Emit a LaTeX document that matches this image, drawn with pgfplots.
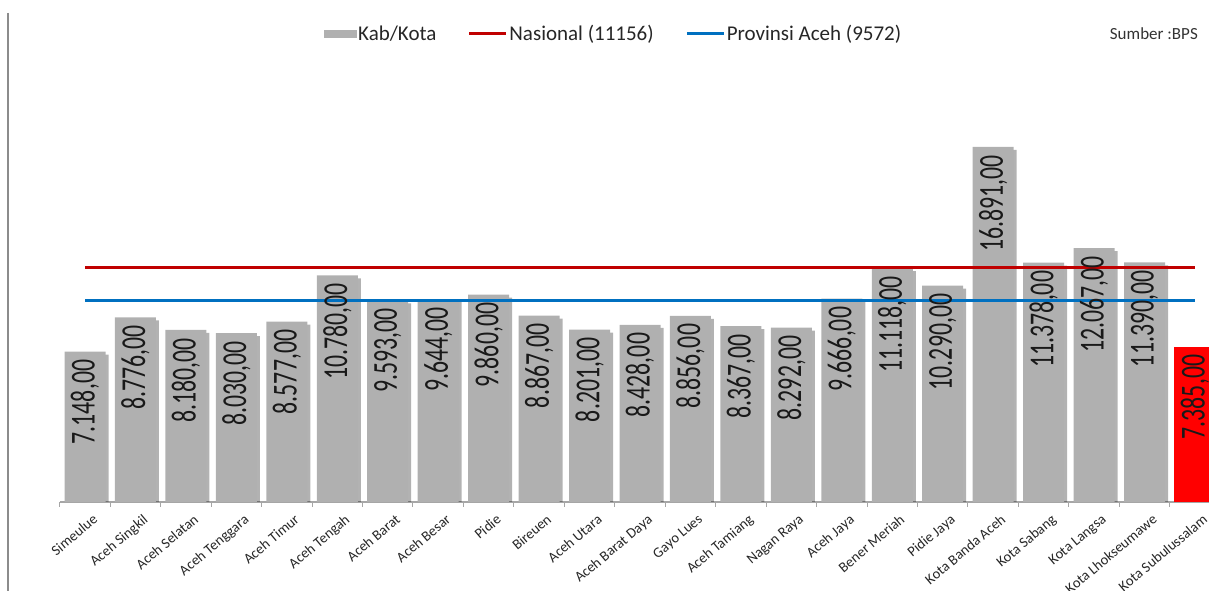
\documentclass[border=0pt]{standalone}
\usepackage{pgfplots}
\pgfplotsset{compat=1.18}
\usepackage{pgfplotstable}
\usepackage{graphicx}
\usepackage{fontspec}
\setmainfont{Carlito}
\definecolor{barGray}{HTML}{B0B0B0}
\definecolor{natRed}{HTML}{C00000}
\definecolor{provBlue}{HTML}{0070C0}
\definecolor{axGray}{HTML}{A6A6A6}

\pgfplotstableread{
x y lab
0 7148 7.148,00
1 8776 8.776,00
2 8180 8.180,00
3 8030 8.030,00
4 8577 8.577,00
5 10780 10.780,00
6 9593 9.593,00
7 9644 9.644,00
8 9860 9.860,00
9 8867 8.867,00
10 8201 8.201,00
11 8428 8.428,00
12 8856 8.856,00
13 8367 8.367,00
14 8292 8.292,00
15 9666 9.666,00
16 11118 11.118,00
17 10290 10.290,00
18 16891 16.891,00
19 11378 11.378,00
20 12067 12.067,00
21 11390 11.390,00
}\graytable

\pgfplotstableread{
x y lab
22 7385 7.385,00
}\redtable

\pgfplotsset{valstyle/.style={
  nodes near coords={\scalebox{0.68}[1]{\pgfplotspointmeta}},
  point meta=explicit symbolic,
  every node near coord/.append style={rotate=90, anchor=east, inner xsep=8pt, inner ysep=0pt,
    font=\fontsize{35}{35}\selectfont, text=black!90}}}

\begin{document}
\begin{tikzpicture}
\draw[color=black!45, line width=1.5pt] (8pt,578pt) -- (8pt,0pt);
\begin{axis}[
  at={(59.8pt,89pt)}, anchor=south west,
  scale only axis, width=1160.4pt, height=420.6pt,
  xmin=-0.5, xmax=22.5, ymin=0, ymax=20000,
  axis x line*=bottom, axis y line=none,
  x axis line style={axGray, line width=1.2pt},
  xtick={0,...,22},
  xticklabels={Simeulue, Aceh Singkil, Aceh Selatan, Aceh Tenggara, Aceh Timur, Aceh Tengah, Aceh Barat, Aceh Besar, Pidie, Bireuen, Aceh Utara, Aceh Barat Daya, Gayo Lues, Aceh Tamiang, Nagan Raya, Aceh Jaya, Bener Meriah, Pidie Jaya, Kota Banda Aceh, Kota Sabang, Kota Langsa, Kota Lhokseumawe, Kota Subulussalam},
  major tick length=0pt,
  minor xtick={-0.5,0.5,...,22.5},
  minor tick length=5pt,
  minor x tick style={axGray, line width=1pt},
  tick align=outside,
  xticklabel style={rotate=40, anchor=north east, font=\fontsize{14.5}{14.5}\selectfont, inner sep=0pt, yshift=-13pt, xshift=-2pt, text=black!85},
  legend style={at={(0.4772,1.1127)}, anchor=center, draw=none, fill=none, legend columns=-1,
    font=\fontsize{21}{21}\selectfont, inner sep=0pt, text=black!85,
    nodes={inner sep=1.5pt},
    /tikz/every even column/.append style={column sep=30pt}},
]
\addlegendimage{legend image code/.code={\fill[barGray] (0pt,-3.5pt) rectangle (32pt,3.5pt);}}
\addlegendentry{Kab/Kota}
\addlegendimage{legend image code/.code={\draw[natRed, line width=3pt] (0pt,0pt) -- (37pt,0pt);}}
\addlegendentry{Nasional (11156)}
\addlegendimage{legend image code/.code={\draw[provBlue, line width=3pt] (0pt,0pt) -- (37pt,0pt);}}
\addlegendentry{Provinsi Aceh (9572)}

\addplot[ybar, bar width=41pt, bar shift=3pt, yshift=-3pt, fill=black, fill opacity=0.3, draw=none, forget plot]
  table[x=x, y=y]{\graytable};
\addplot[ybar, bar width=41pt, bar shift=0pt, fill=barGray, draw=none, forget plot, valstyle]
  table[x=x, y=y, meta=lab]{\graytable};
\addplot[ybar, bar width=41pt, bar shift=0pt, fill=red, draw=none, forget plot, valstyle]
  table[x=x, y=y, meta=lab]{\redtable};
\addplot[natRed, line width=3pt, forget plot] coordinates {(0,11156) (22,11156)};
\addplot[provBlue, line width=3pt, forget plot] coordinates {(0,9572) (22,9572)};
\end{axis}
\node[anchor=east, font=\fontsize{17}{17}\selectfont, text=black!80, inner sep=0pt] at (1198pt,557pt) {Sumber :BPS};
\pgfresetboundingbox
\useasboundingbox (0,0) rectangle (1209pt,591pt);
\end{tikzpicture}
\end{document}
